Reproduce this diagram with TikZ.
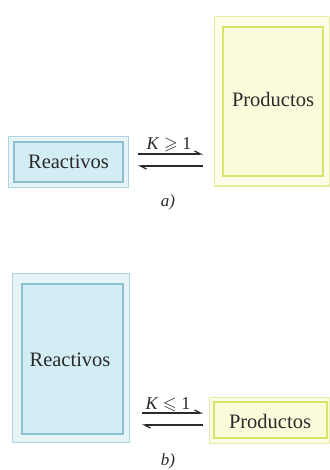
\documentclass[tikz,border=0pt]{standalone}
\usepackage{fontspec}
\usepackage{amssymb}
\setmainfont{Liberation Serif}
\usetikzlibrary{arrows.meta}
\definecolor{bOutFill}{HTML}{E6F4F8}
\definecolor{bOutDraw}{HTML}{ADD4E0}
\definecolor{bInFill}{HTML}{D3EDF5}
\definecolor{bInDraw}{HTML}{8CC0CE}
\definecolor{yOutFill}{HTML}{FCFCE8}
\definecolor{yOutDraw}{HTML}{E6ED9E}
\definecolor{yInFill}{HTML}{FBFBDC}
\definecolor{yInDraw}{HTML}{D6E46A}
\definecolor{txt}{HTML}{2A2A2A}
\tikzset{
  blueouter/.style={fill=bOutFill,draw=bOutDraw,line width=1pt},
  blueinner/.style={fill=bInFill,draw=bInDraw,line width=1.6pt},
  yelouter/.style={fill=yOutFill,draw=yOutDraw,line width=1pt},
  yelinner/.style={fill=yInFill,draw=yInDraw,line width=1.8pt},
  lbl/.style={text=txt,font=\fontsize{20.5}{22}\selectfont,inner sep=0pt},
  klbl/.style={text=txt,font=\fontsize{18}{20}\selectfont,inner sep=0pt,anchor=base},
  caplbl/.style={text=txt,font=\fontsize{17}{19}\selectfont\itshape,inner sep=0pt,anchor=base},
  harp/.style={draw=txt,line width=1.2pt,-{Straight Barb[left,length=6pt,width=6pt]}}
}
\begin{document}
\begin{tikzpicture}[x=1pt,y=-1pt]
\useasboundingbox (0,0) rectangle (329,470);
% ---- a) ----
\draw[blueouter] (8,137) rectangle (128,187);
\draw[blueinner] (14,142) rectangle (123,182);
\node[lbl] (ra) at (68.5,162) {Reactivos};
\draw[yelouter] (214,17) rectangle (329.5,186);
\draw[yelinner] (223,27) rectangle (323,176);
\node[lbl] (pa) at (273,99) {Productos};
\coordinate (a1) at (138,154);
\coordinate (a2) at (203,154);
\coordinate (a3) at (203,166);
\coordinate (a4) at (138,166);
\draw[harp] (a1) -- (a2);
\draw[harp] (a3) -- (a4);
\node[klbl] (ka) at (169,150) {\textit{K} $\geqslant$ 1};
\node[caplbl] (ca) at (168,206) {a)};
% ---- b) ----
\draw[blueouter] (12,273) rectangle (129,442);
\draw[blueinner] (22,284) rectangle (123,434);
\node[lbl] (rb) at (70,360) {Reactivos};
\draw[yelouter] (209,397) rectangle (329.5,443);
\draw[yelinner] (214,402) rectangle (327,438);
\node[lbl] (pb) at (270,421) {Productos};
\coordinate (b1) at (142,413);
\coordinate (b2) at (203,413);
\coordinate (b3) at (203,425);
\coordinate (b4) at (142,425);
\draw[harp] (b1) -- (b2);
\draw[harp] (b3) -- (b4);
\node[klbl] (kb) at (168,409) {\textit{K} $\leqslant$ 1};
\node[caplbl] (cb) at (168,465) {b)};
\end{tikzpicture}
\end{document}
